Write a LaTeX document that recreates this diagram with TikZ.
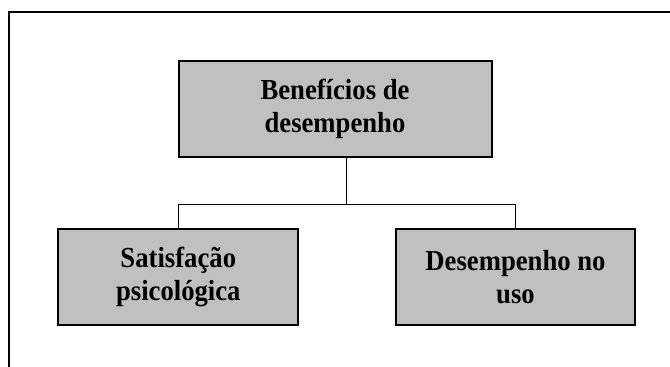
\documentclass[tikz,border=0pt]{standalone}
\usepackage{fontspec}
\setmainfont{Liberation Serif}[FakeStretch=0.92]
\begin{document}
\begin{tikzpicture}[x=1pt,y=-1pt,
  box/.style={draw=black,line width=2pt,fill=boxgray,inner sep=0pt,align=center,
    font=\fontsize{29}{33}\selectfont\bfseries},
  link/.style={draw=black,line width=1.4pt}]
\definecolor{boxgray}{HTML}{C0C0C0}
\useasboundingbox (0,0) rectangle (670,367);
\draw[line width=2pt] (670,12) -- (8.5,12) -- (8.5,367);
\node[box,minimum width=313pt,minimum height=96pt] (top) at (335,109) {Benefícios de\\desempenho};
\node[box,minimum width=240pt,minimum height=96pt] (bl) at (178.3,277) {Satisfação\\psicológica};
\node[box,minimum width=239pt,minimum height=96pt] (br) at (515.5,277) {Desempenho no\\uso};
\coordinate (j) at (346.7,204.3);
\draw[link] (top.south -| j) -- (j);
\draw[link] (bl.north) |- (j) -| (br.north);
\end{tikzpicture}
\end{document}
